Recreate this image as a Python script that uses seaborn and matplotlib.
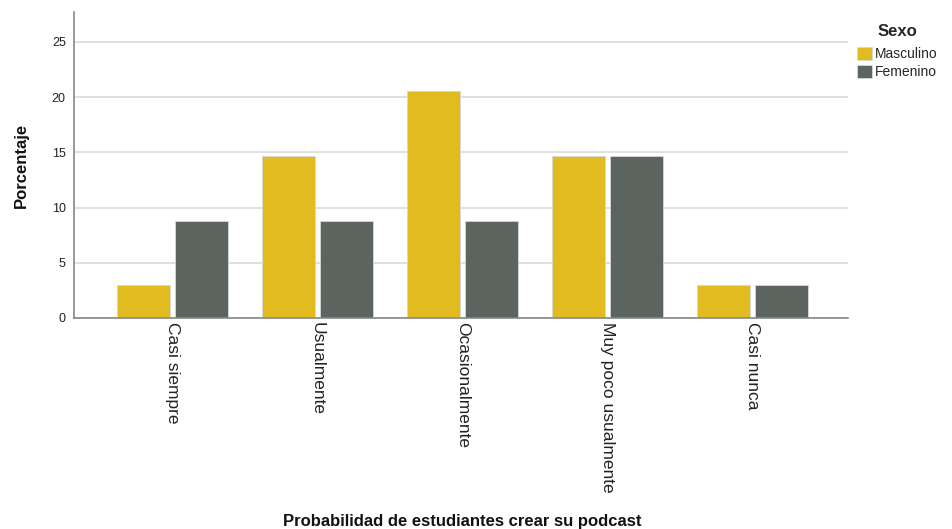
import matplotlib
matplotlib.use("Agg")
import matplotlib.pyplot as plt
import seaborn as sns
import pandas as pd

categories = ["Casi siempre", "Usualmente", "Ocasionalmente", "Muy poco usualmente", "Casi nunca"]
masculino = [2.94, 14.71, 20.59, 14.71, 2.94]
femenino = [8.82, 8.82, 8.82, 14.71, 2.94]
series = ["Masculino", "Femenino"]
colors = ["#E1BB1F", "#5B645E"]

df = pd.DataFrame({
    "cat": categories * 2,
    "val": masculino + femenino,
    "Sexo": [series[0]] * len(categories) + [series[1]] * len(categories),
})

sns.set_theme(style="white")
plt.rcParams["font.family"] = ["Liberation Sans", "DejaVu Sans"]

fig = plt.figure(figsize=(9.53, 5.29), dpi=100)
ax = fig.add_axes([0.0777, 0.399, 0.8123, 0.578])

sns.barplot(data=df, x="cat", y="val", hue="Sexo", order=categories,
            hue_order=series, palette=colors, width=0.80, gap=0.08,
            edgecolor="#d8d8d8", linewidth=0.6, ax=ax, legend=True, saturation=1)

ax.set_xlim(-0.68, 4.66)
ax.set_ylim(0, 27.7)
ax.set_yticks([0, 5, 10, 15, 20, 25])
ax.yaxis.grid(True, color="#d9d9d9", linewidth=1.2)
ax.set_axisbelow(True)
for s in ["top", "right"]:
    ax.spines[s].set_visible(False)
ax.spines["left"].set_color("#888888")
ax.spines["bottom"].set_color("#888888")
ax.spines["left"].set_linewidth(1.2)
ax.spines["bottom"].set_linewidth(1.2)
ax.tick_params(axis="both", length=0)
ax.tick_params(axis="y", labelsize=9, colors="#222222", pad=6)
ax.tick_params(axis="x", labelsize=12.5, colors="#222222", pad=3)
for lbl in ax.get_xticklabels():
    lbl.set_rotation(270)
    lbl.set_va("top")
    lbl.set_ha("center")

ax.set_xlabel("Probabilidad de estudiantes crear su podcast", fontsize=12,
              fontweight="bold", color="#111111")
ax.xaxis.set_label_coords(0.502, -0.64)
ax.set_ylabel("Porcentaje", fontsize=12, fontweight="bold", color="#111111")
ax.yaxis.set_label_coords(-0.058, 0.5)

leg = ax.legend(title="Sexo", loc="upper left", bbox_to_anchor=(1.0, 0.99),
                frameon=False, fontsize=10, title_fontsize=12,
                handlelength=1.1, handleheight=1.1, handletextpad=0.25,
                labelspacing=0.25, borderaxespad=0.2, alignment="center")
leg.get_title().set_fontweight("bold")
leg._legend_box.sep = 6

fig.savefig("out.png", dpi=100)
